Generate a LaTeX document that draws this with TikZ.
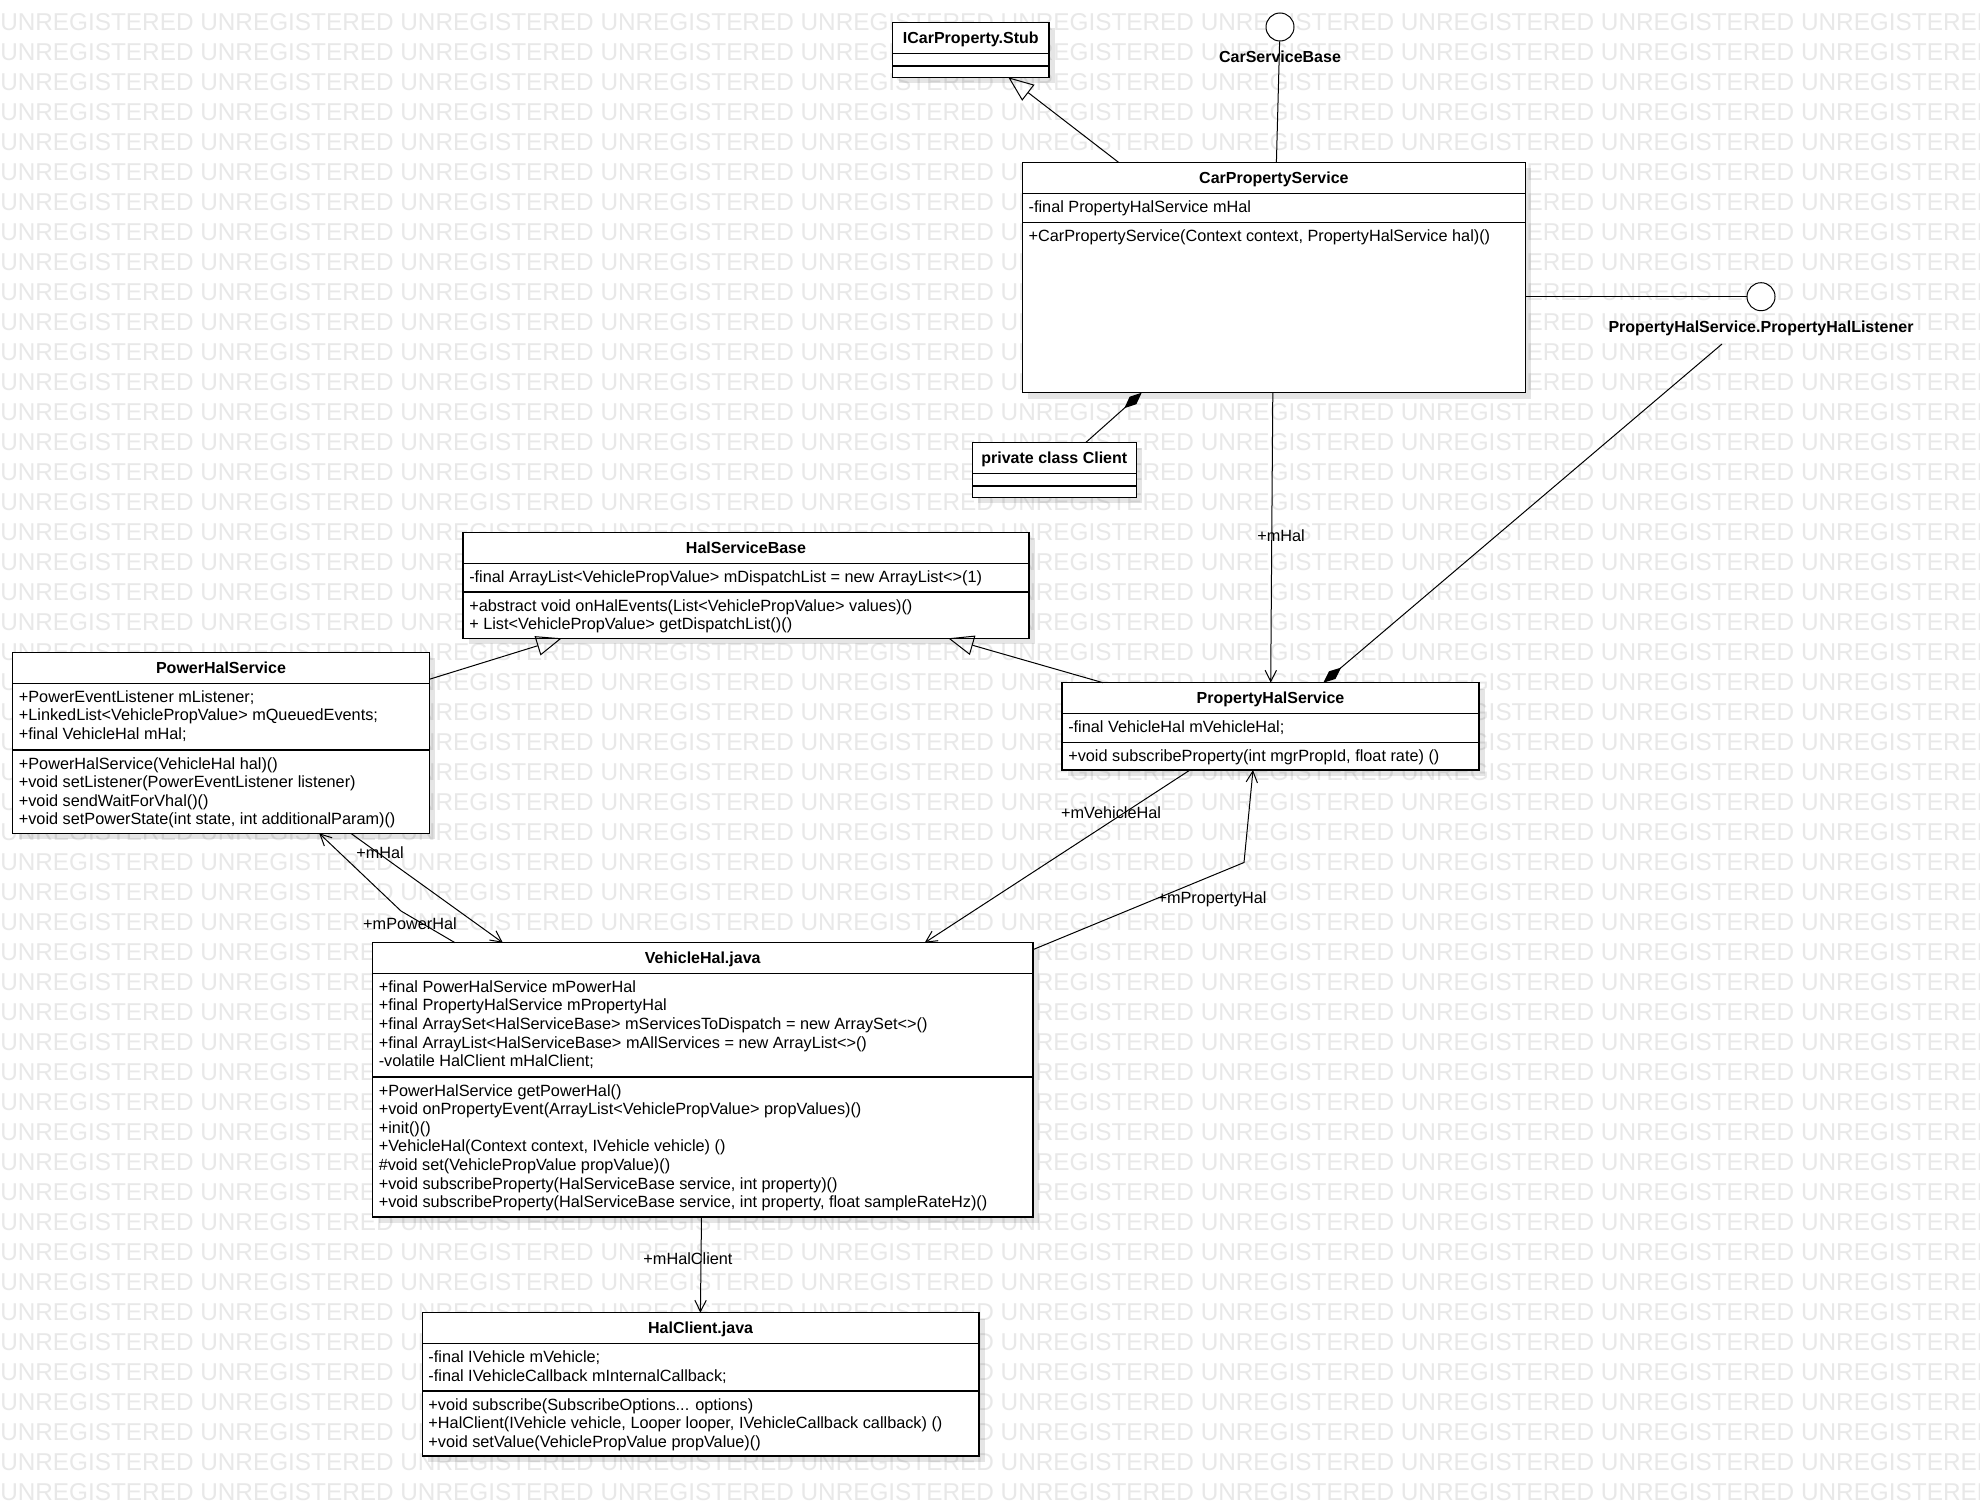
\documentclass[tikz,border=0pt]{standalone}
\usepackage{fontspec}
\setmainfont{Liberation Sans}
\usetikzlibrary{arrows.meta,fit,shadows}
\definecolor{wm}{RGB}{232,232,232}
\tikzset{
  umlbox/.style={draw=black, line width=0.8pt, fill=white, inner sep=0pt, outer sep=0pt,
    drop shadow={shadow xshift=4.5pt, shadow yshift=-4.5pt, opacity=0.1, fill=black}},
  sepline/.style={draw=black, line width=0.8pt},
  ctitle/.style={font=\bfseries\fontsize{12}{14}\selectfont, inner sep=0pt, anchor=base},
  member/.style={font=\fontsize{12.2}{14}\selectfont, inner sep=0pt, anchor=base west},
  lbl/.style={font=\fontsize{12.2}{14}\selectfont, inner sep=0pt, anchor=base},
  conn/.style={draw=black, line width=0.75pt},
  gen/.style={conn, -{Triangle[open, length=19pt, width=15pt]}},
  assoc/.style={conn, -{Straight Barb[length=8.5pt, width=8.5pt]}},
  comp/.style={conn, -{Diamond[length=17.5pt, width=7.5pt, fill=black]}},
  lolli/.style={circle, draw=black, line width=0.75pt, fill=white, minimum size=21pt, inner sep=0pt},
  wmark/.style={font=\fontsize{18.25}{18}\selectfont, text=wm, inner sep=0pt, anchor=base west},
}
\begin{document}
\begin{tikzpicture}[x=0.75pt, y=-0.75pt]
\useasboundingbox (0,0) rectangle (1980,1506);
\fill[white] (0,0) rectangle (1980,1506);
% watermark
\begin{scope}
\clip (0,0) rectangle (1980,1506);
\foreach \r in {0,...,49}
  \node[wmark] (wm\r) at (0,{30.2+30*\r}) {UNREGISTERED UNREGISTERED UNREGISTERED UNREGISTERED UNREGISTERED UNREGISTERED UNREGISTERED UNREGISTERED UNREGISTERED UNREGISTERED UNREGISTERED};
\end{scope}

% ---------- ICarProperty.Stub
\node[umlbox, fit={(892.6,22.3) (1049,77.3)}] (stub) {};
\draw[sepline] (892.6,53.3) -- (1049,53.3);
\draw[sepline] (892.6,66) -- (1049,66);
\node[ctitle] (stub-t) at (970.8,43.3) {ICarProperty.Stub};

% ---------- CarPropertyService
\node[umlbox, fit={(1022.4,162.3) (1525.4,392.7)}] (cps) {};
\draw[sepline] (1022.4,193.3) -- (1525.4,193.3);
\draw[sepline] (1022.4,222.3) -- (1525.4,222.3);
\node[ctitle] (cps-t) at (1273.9,183.3) {CarPropertyService};
\node[member] (cps-a1) at (1028.4,212.3) {-final PropertyHalService mHal};
\node[member] (cps-o1) at (1028.4,241.3) {+CarPropertyService(Context context, PropertyHalService hal)()};

% ---------- lollipops
\node[lolli] (csb) at (1280,27) {};
\node[ctitle] (csb-l) at (1280,62.2) {CarServiceBase};
\node[lolli] (phl) at (1761,296.7) {};
\node[ctitle] (phl-l) at (1761,332.2) {PropertyHalService.PropertyHalListener};

% ---------- private class Client
\node[umlbox, fit={(972.2,442.3) (1136.4,497.3)}] (cli) {};
\draw[sepline] (972.2,473.7) -- (1136.4,473.7);
\draw[sepline] (972.2,486) -- (1136.4,486);
\node[ctitle] (cli-t) at (1054.3,463.5) {private class Client};

% ---------- HalServiceBase
\node[umlbox, fit={(463,532.3) (1029,638.3)}] (hsb) {};
\draw[sepline] (463,563.3) -- (1029,563.3);
\draw[sepline] (463,592) -- (1029,592);
\node[ctitle] (hsb-t) at (746,553.3) {HalServiceBase};
\node[member] (hsb-a1) at (469,582.3) {-final ArrayList<VehiclePropValue> mDispatchList = new ArrayList<>(1)};
\node[member] (hsb-o1) at (469,611) {+abstract void onHalEvents(List<VehiclePropValue> values)()};
\node[member] (hsb-o2) at (469,629.6) {+ List<VehiclePropValue> getDispatchList()()};

% ---------- PowerHalService
\node[umlbox, fit={(12.6,652.3) (429.3,833.3)}] (pow) {};
\draw[sepline] (12.6,683.3) -- (429.3,683.3);
\draw[sepline] (12.6,750) -- (429.3,750);
\node[ctitle] (pow-t) at (221,673.3) {PowerHalService};
\foreach \t [count=\i] in {{+PowerEventListener mListener;},{+LinkedList<VehiclePropValue> mQueuedEvents;},{+final VehicleHal mHal;}}
  \node[member] (pow-a\i) at (18.6,{702.3+18.6*(\i-1)}) {\t};
\foreach \t [count=\i] in {{+PowerHalService(VehicleHal hal)()},{+void setListener(PowerEventListener listener)},{+void sendWaitForVhal()()},{+void setPowerState(int state, int additionalParam)()}}
  \node[member] (pow-o\i) at (18.6,{769+18.6*(\i-1)}) {\t};

% ---------- PropertyHalService
\node[umlbox, fit={(1062,682.7) (1479,770)}] (phs) {};
\draw[sepline] (1062,713.3) -- (1479,713.3);
\draw[sepline] (1062,742.3) -- (1479,742.3);
\node[ctitle] (phs-t) at (1270.5,703.5) {PropertyHalService};
\node[member] (phs-a1) at (1068,732.3) {-final VehicleHal mVehicleHal;};
\node[member] (phs-o1) at (1068,761.3) {+void subscribeProperty(int mgrPropId, float rate) ()};

% ---------- VehicleHal.java
\node[umlbox, fit={(372.5,942.7) (1033,1217)}] (vh) {};
\draw[sepline] (372.5,973.3) -- (1033,973.3);
\draw[sepline] (372.5,1077) -- (1033,1077);
\node[ctitle] (vh-t) at (702.75,963.5) {VehicleHal.java};
\foreach \t [count=\i] in {{+final PowerHalService mPowerHal},{+final PropertyHalService mPropertyHal},{+final ArraySet<HalServiceBase> mServicesToDispatch = new ArraySet<>()},{+final ArrayList<HalServiceBase> mAllServices = new ArrayList<>()},{-volatile HalClient mHalClient;}}
  \node[member] (vh-a\i) at (378.5,{992.3+18.6*(\i-1)}) {\t};
\foreach \t [count=\i] in {{+PowerHalService getPowerHal()},{+void onPropertyEvent(ArrayList<VehiclePropValue> propValues)()},{+init()()},{+VehicleHal(Context context, IVehicle vehicle) ()},{\#void set(VehiclePropValue propValue)()},{+void subscribeProperty(HalServiceBase service, int property)()},{+void subscribeProperty(HalServiceBase service, int property, float sampleRateHz)()}}
  \node[member] (vh-o\i) at (378.5,{1096+18.6*(\i-1)}) {\t};

% ---------- HalClient.java
\node[umlbox, fit={(422.2,1312.7) (979,1456)}] (hc) {};
\draw[sepline] (422.2,1343.7) -- (979,1343.7);
\draw[sepline] (422.2,1391) -- (979,1391);
\node[ctitle] (hc-t) at (700.6,1333.7) {HalClient.java};
\node[member] (hc-a1) at (428.2,1362.7) {-final IVehicle mVehicle;};
\node[member] (hc-a2) at (428.2,1381.3) {-final IVehicleCallback mInternalCallback;};
\node[member] (hc-o1) at (428.2,1410) {+void subscribe(SubscribeOptions... options)};
\node[member] (hc-o2) at (428.2,1428.6) {+HalClient(IVehicle vehicle, Looper looper, IVehicleCallback callback) ()};
\node[member] (hc-o3) at (428.2,1447.2) {+void setValue(VehiclePropValue propValue)()};

% ---------- connection points
\coordinate (cps-top-g) at (1118.5,162.3);
\coordinate (stub-bot) at (1008.3,77.3);
\coordinate (cps-top-l) at (1276.4,162.3);
\coordinate (cps-right) at (1525.4,296.7);
\coordinate (cps-bot-c) at (1141.7,392.7);
\coordinate (cps-bot-a) at (1272.8,392.7);
\coordinate (cli-top) at (1086,442.3);
\coordinate (phl-tail) at (1722,344);
\coordinate (phs-top-d) at (1323.3,682.7);
\coordinate (phs-top-a) at (1270.7,682.7);
\coordinate (phs-top-g) at (1103,682.7);
\coordinate (hsb-bot-r) at (948.3,638.3);
\coordinate (hsb-bot-l) at (561.7,638.3);
\coordinate (pow-right) at (429.3,679.3);
\coordinate (pow-bot-a) at (350.8,833.3);
\coordinate (pow-bot-b) at (319.2,833.3);
\coordinate (vh-top-a) at (502.8,942.7);
\coordinate (vh-top-b) at (455,942.7);
\coordinate (bend-pow) at (401,911);
\coordinate (phs-bot-a) at (1190,770);
\coordinate (vh-top-c) at (924.7,942.7);
\coordinate (vh-right) at (1033,949.6);
\coordinate (bend-phs) at (1244,862.5);
\coordinate (phs-bot-b) at (1253,770);
\coordinate (vh-bot) at (701.5,1217);
\coordinate (hc-top) at (700.4,1312.7);

% ---------- connectors
\draw[gen] (cps-top-g) -- (stub-bot);
\draw[conn] (csb) -- (cps-top-l);
\draw[conn] (cps-right) -- (phl);
\draw[comp] (cli-top) -- (cps-bot-c);
\draw[comp] (phl-tail) -- (phs-top-d);
\draw[assoc] (cps-bot-a) -- (phs-top-a);
\node[lbl] (l-mhal1) at (1281,541.2) {+mHal};
\draw[gen] (pow-right) -- (hsb-bot-l);
\draw[gen] (phs-top-g) -- (hsb-bot-r);
\draw[assoc] (pow-bot-a) -- (vh-top-a);
\node[lbl] (l-mhal2) at (380,858.5) {+mHal};
\draw[assoc] (vh-top-b) -- (bend-pow) -- (pow-bot-b);
\node[lbl] (l-mpow) at (410,929.5) {+mPowerHal};
\draw[assoc] (phs-bot-a) -- (vh-top-c);
\node[lbl] (l-mvh) at (1111,818.8) {+mVehicleHal};
\draw[assoc] (vh-right) -- (bend-phs) -- (phs-bot-b);
\node[lbl] (l-mph) at (1212,903.5) {+mPropertyHal};
\draw[assoc] (vh-bot) -- (hc-top);
\node[lbl] (l-mhc) at (688,1264.5) {+mHalClient};
\end{tikzpicture}
\end{document}
